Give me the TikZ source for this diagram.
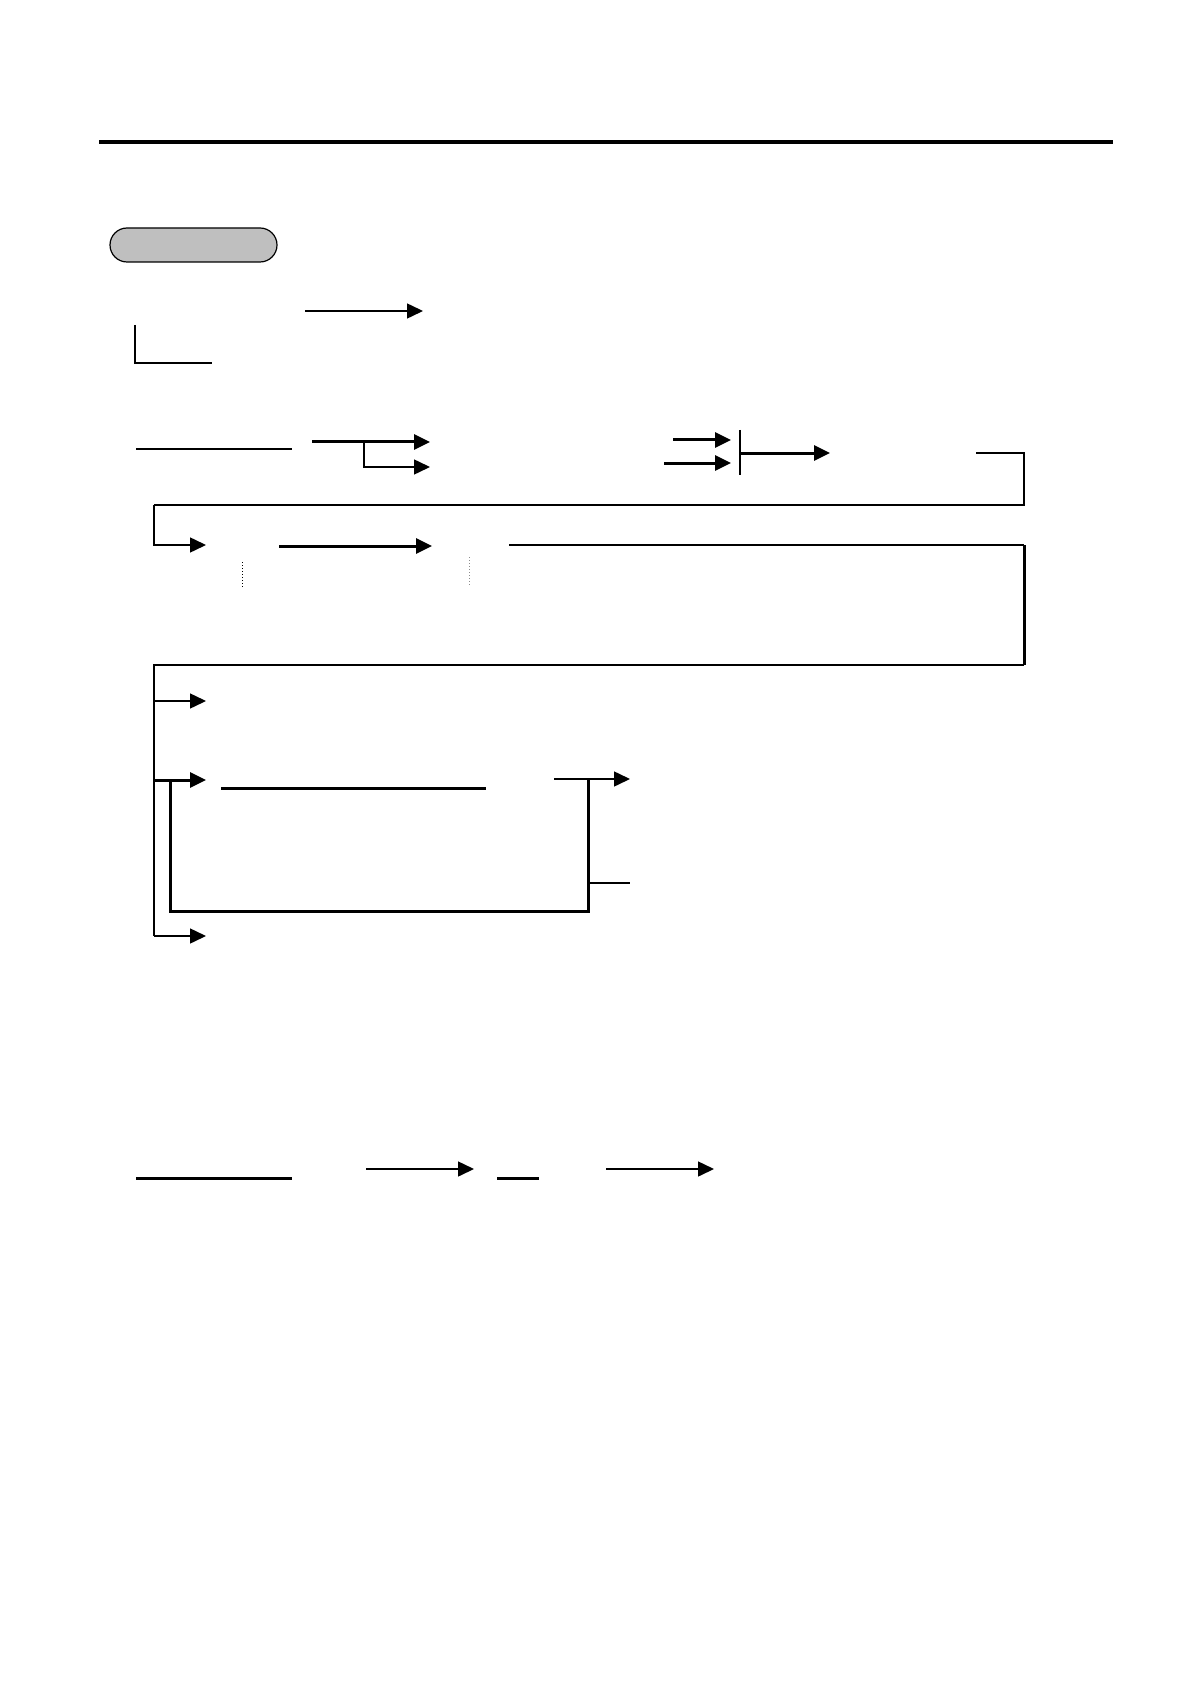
\documentclass[tikz,border=0pt]{standalone}
\usetikzlibrary{arrows.meta}
\tikzset{
	thin line/.style={line width=0.75pt},
	thick line/.style={line width=1.5pt},
	flow/.style={-{Triangle[length=8pt, width=7.5pt]}},
	fine dots/.style={line width=0.5pt, dash pattern=on 0.5pt off 1pt},
	pill/.style={draw=black, line width=0.6pt, fill=black!25, rounded corners=8.5pt, minimum width=83.5pt, minimum height=17pt, inner sep=0pt}
}

\begin{document}
\begin{tikzpicture}[x=0.5pt, y=-0.5pt, line cap=butt]
	\useasboundingbox (0, 0) rectangle (1190, 1684);

	% --- header ---
	\coordinate (ruleL) at (99, 142);
	\coordinate (ruleR) at (1113, 142);
	\draw[line width=2pt] (ruleL) -- (ruleR);
	\node[pill] (title) at (193.5, 245) {};

	% --- first line ---
	\coordinate (a1s) at (305, 311);
	\coordinate (a1e) at (423, 311);
	\coordinate (hookT) at (135, 325);
	\coordinate (hookR) at (212, 363);
	\draw[thin line, flow] (a1s) -- (a1e);
	\draw[thin line] (hookT) |- (hookR);

	% --- second line ---
	\coordinate (u1s) at (136, 449);
	\coordinate (u1e) at (292, 449);
	\coordinate (b1s) at (312, 442);
	\coordinate (b1e) at (430, 442);
	\coordinate (b1k) at (364, 442);
	\coordinate (b2e) at (430, 467);
	\draw[thin line] (u1s) -- (u1e);
	\draw[thick line, flow] (b1s) -- (b1e);
	\draw[thin line, flow] (b1k) |- (b2e);

	\coordinate (c1s) at (673, 440);
	\coordinate (c2s) at (664, 463);
	\coordinate (barT) at (740, 430);
	\coordinate (barB) at (740, 475);
	\coordinate (c1e) at (731, 440);
	\coordinate (c2e) at (731, 463);
	\coordinate (d1s) at (740, 453);
	\coordinate (d1e) at (830, 453);
	\draw[thick line, flow] (c1s) -- (c1e);
	\draw[thick line, flow] (c2s) -- (c2e);
	\draw[thin line] (barT) -- (barB);
	\draw[thick line, flow] (d1s) -- (d1e);

	% --- wrap to third line ---
	\coordinate (w1s) at (976, 453);
	\coordinate (w1r) at (1024, 505);
	\coordinate (w1l) at (154, 505);
	\coordinate (w1e) at (206, 545);
	\draw[thin line] (w1s) -| (w1r) -- (w1l);
	\draw[thin line, flow] (w1l) |- (w1e);

	\coordinate (e1s) at (279, 546);
	\coordinate (e1e) at (432, 546);
	\draw[thick line, flow] (e1s) -- (e1e);
	\coordinate (dotAT) at (242, 562);
	\coordinate (dotAB) at (242, 589);
	\coordinate (dotBT) at (469, 557);
	\coordinate (dotBB) at (469, 585);
	\draw[fine dots] (dotAT) -- (dotAB);
	\draw[fine dots, black!45] (dotBT) -- (dotBB);

	% --- wrap to branches ---
	\coordinate (w2s) at (509, 545);
	\coordinate (w2r) at (1024, 665);
	\coordinate (w2l) at (154, 665);
	\coordinate (trunkB) at (154, 936);
	\draw[thin line] (w2s) -- (w2s -| w2r);
	\draw[thick line] (w2s -| w2r) -- (w2r);
	\draw[thin line] (w2r) -- (w2l) -- (trunkB);

	\coordinate (f1e) at (206, 701);
	\coordinate (f2e) at (206, 780);
	\coordinate (f3e) at (206, 936);
	\draw[thin line, flow] (f1e -| w2l) -- (f1e);
	\draw[thick line, flow] (f2e -| w2l) -- (f2e);
	\draw[thin line, flow] (trunkB) -- (f3e);

	% --- loop back ---
	\coordinate (g1) at (221, 788);
	\coordinate (g2) at (486, 788);
	\draw[thick line] (g1) -- (g2);
	\coordinate (loopT) at (170, 780);
	\coordinate (loopB) at (588, 911);
	\coordinate (loopR) at (588, 779);
	\draw[thick line] (loopT) |- (loopB) -- (loopR);
	\coordinate (h1s) at (554, 779);
	\coordinate (h1e) at (630, 779);
	\coordinate (h2s) at (588, 883);
	\coordinate (h2e) at (630, 883);
	\draw[thin line, flow] (h1s) -- (h1e);
	\draw[thin line] (h2s) -- (h2e);

	% --- bottom line ---
	\coordinate (k1s) at (136, 1178);
	\coordinate (k1e) at (292, 1178);
	\coordinate (k2s) at (366, 1169);
	\coordinate (k2e) at (474, 1169);
	\coordinate (k3s) at (497, 1178);
	\coordinate (k3e) at (539, 1178);
	\coordinate (k4s) at (606, 1169);
	\coordinate (k4e) at (714, 1169);
	\draw[thick line] (k1s) -- (k1e);
	\draw[thin line, flow] (k2s) -- (k2e);
	\draw[thick line] (k3s) -- (k3e);
	\draw[thin line, flow] (k4s) -- (k4e);

\end{tikzpicture}
\end{document}
